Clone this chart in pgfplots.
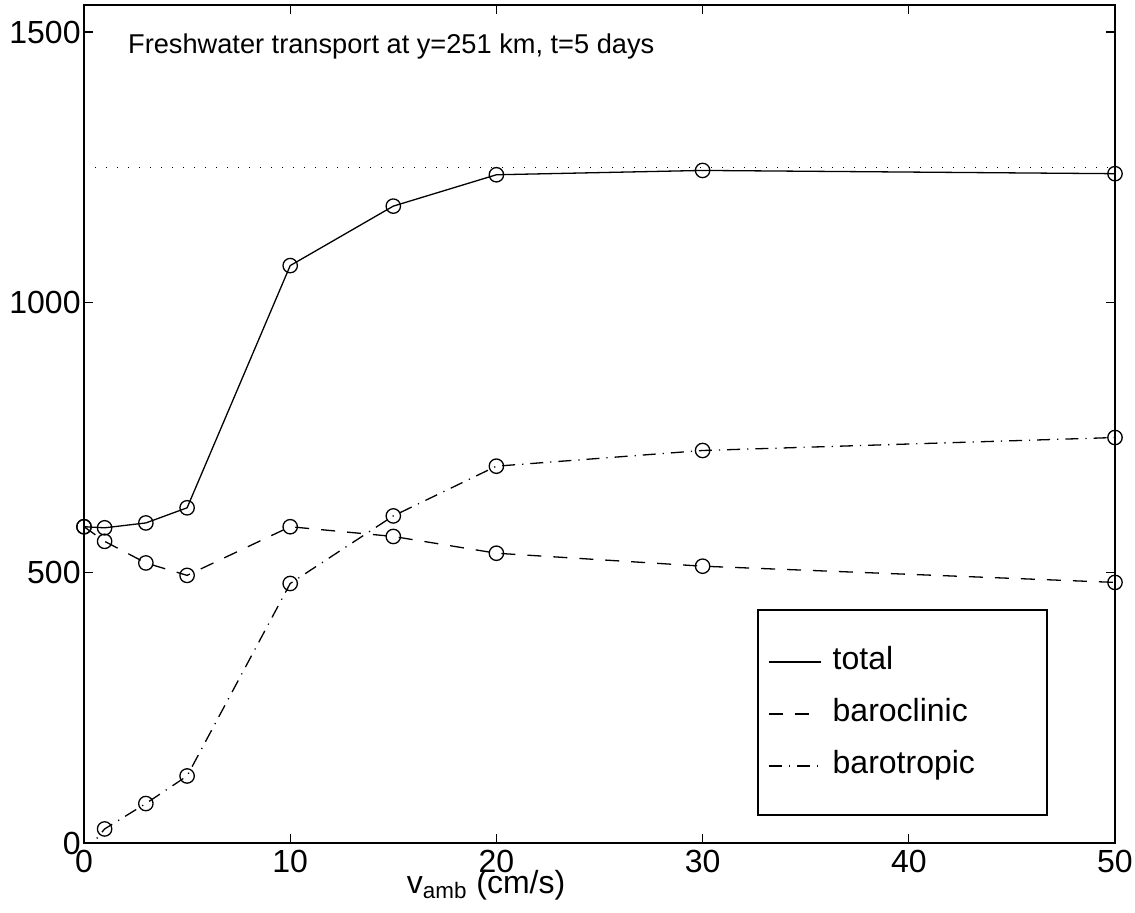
\documentclass[border=0pt]{standalone}
\usepackage{fontspec}
\setmainfont{Liberation Sans}
\usepackage{pgfplots}
\pgfplotsset{compat=1.18}

% freshwater transport vs ambient velocity
\pgfplotstableread{
v    total  bclin  btrop
0    585    585    -20
1    583    558    26
3    592    518    73
5    620    495    124
10   1068   585    480
15   1178   567    605
20   1236   536    697
30   1244   512    726
50   1238   482    750
}\transport

\begin{document}
\begin{tikzpicture}[font=\fontsize{16}{18}\selectfont]
\path[use as bounding box] (-42pt,-34.5pt) rectangle (525.5pt,421.5pt);
\begin{axis}[
    scale only axis,
    width=515.5pt, height=419pt,
    xmin=0, xmax=50,
    ymin=0, ymax=1550,
    xtick={0,10,20,30,40,50},
    ytick={0,500,1000,1500},
    tick align=inside,
    major tick length=4.5pt,
    axis line style={line width=0.6pt},
    tick style={black, line width=0.6pt},
    /pgf/number format/assume math mode=true,
    /pgf/number format/1000 sep={},
    yticklabel style={inner xsep=1.5pt},
    xlabel={v\textsubscript{amb} (cm/s)},
    xlabel style={at={(axis description cs:0.39,0)}, anchor=north, yshift=-10pt},
    legend style={draw=none, fill=none, inner sep=0pt,
        at={(rel axis cs:0.6634,0.154)}, anchor=west,
        font=\fontsize{16}{18}\selectfont,
        nodes={inner sep=0pt, text height=11.5pt, text depth=3.5pt},
        row sep=11pt, column sep=5.5pt},
    legend cell align=left,
    legend image code/.code={\draw[#1] (0pt,0pt) -- (26pt,0pt);},
    every axis plot/.append style={black, line width=0.65pt,
        mark size=3.6pt, mark options={solid, fill=none}},
]
\addplot[solid, mark=o] table[x=v, y=total] {\transport};
\addlegendentry{total}
\addplot[dash pattern=on 7pt off 6pt, mark=o] table[x=v, y=bclin] {\transport};
\addlegendentry{baroclinic}
\addplot[dash pattern=on 6.5pt off 3.5pt on 0.6pt off 3.5pt, mark=none]
    table[x=v, y=btrop] {\transport};
\addlegendentry{barotropic}
% markers of the barotropic curve that lie inside the axis
\addplot[forget plot, only marks, mark=o, restrict y to domain=0:2000]
    table[x=v, y=btrop] {\transport};
\addplot[forget plot, mark=none, line width=0.6pt,
    dash pattern=on 0.6pt off 4.9pt] coordinates {(0,1250) (50,1250)};

\draw[line width=0.6pt] (rel axis cs:0.6537,0.278) rectangle (rel axis cs:0.934,0.0334);
\node[anchor=west, font=\fontsize{13.6}{16}\selectfont] at (axis cs:1.8,1474)
    {Freshwater transport at y=251 km, t=5 days};
\end{axis}
\end{tikzpicture}
\end{document}
